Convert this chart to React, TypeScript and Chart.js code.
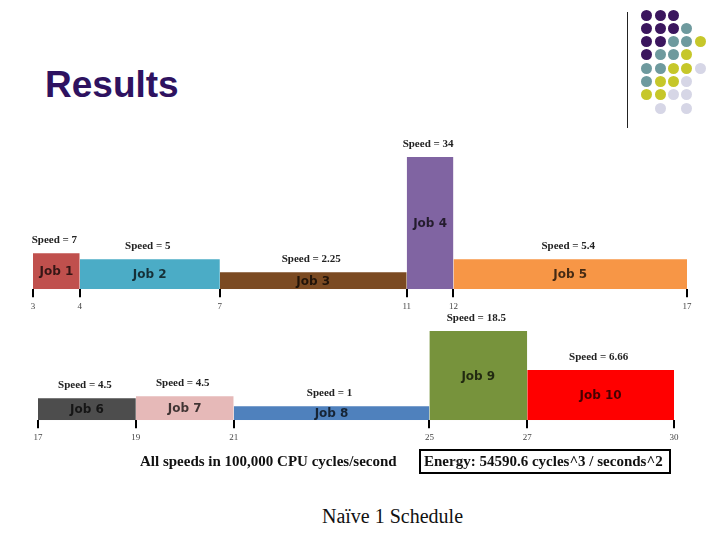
import React, { useEffect, useRef } from "react";
import { Chart, registerables } from "chart.js";

Chart.register(...registerables);

// ---- data ----
const topJobs = ["Job 1", "Job 2", "Job 3", "Job 4", "Job 5"];
const topStarts = [3, 4, 7, 11, 12];
const topEnds = [4, 7, 11, 12, 17];
const topHeights = [36, 30, 17, 132, 30];
const topSpeeds = ["7", "5", "2.25", "34", "5.4"];
const topTicks = [3, 4, 7, 11, 12, 17];
const topColors = ["#C0504D", "#4BACC6", "#7B4A22", "#8064A2", "#F79646"];

const bottomJobs = ["Job 6", "Job 7", "Job 8", "Job 9", "Job 10"];
const bottomStarts = [17, 19, 21, 25, 27];
const bottomEnds = [19, 21, 25, 27, 30];
const bottomHeights = [22, 24, 14, 89, 50];
const bottomSpeeds = ["4.5", "4.5", "1", "18.5", "6.66"];
const bottomTicks = [17, 19, 21, 25, 27, 30];
const bottomColors = ["#4D4D4D", "#E6B9B8", "#4F81BD", "#77933C", "#FF0000"];

const logoRows = [
  "PPP..",
  "PPPT.",
  "PPTTY",
  "PTTY.",
  "TTYYL",
  "TYYL.",
  "YYLL.",
  ".L.L.",
];
const logoColors: Record<string, string> = {
  P: "#3B165E",
  T: "#6E9A9E",
  Y: "#C6C72A",
  L: "#D6D6E6",
};

type ScheduleProps = {
  jobs: string[];
  starts: number[];
  ends: number[];
  heights: number[];
  speeds: string[];
  ticks: number[];
  colors: string[];
  yMax: number;
  width: number;
  height: number;
  padding: { left: number; right: number; top: number; bottom: number };
  style: React.CSSProperties;
};

function Schedule(props: ScheduleProps) {
  const ref = useRef<HTMLCanvasElement | null>(null);
  useEffect(() => {
    if (!ref.current) return;
    const { jobs, starts, ends, heights, speeds, ticks, colors } = props;
    const labelPlugin = {
      id: "jobLabels",
      afterDatasetsDraw(chart: any) {
        const ctx = chart.ctx;
        const xs = chart.scales.x;
        const ys = chart.scales.y;
        ctx.save();
        ctx.textAlign = "center";
        ctx.textBaseline = "middle";
        jobs.forEach((name, i) => {
          const x0 = xs.getPixelForValue(starts[i]);
          const x1 = xs.getPixelForValue(ends[i]);
          const yt = ys.getPixelForValue(heights[i]);
          const yb = ys.getPixelForValue(0);
          const cx = (x0 + x1) / 2;
          ctx.font = "bold 12px 'DejaVu Sans'";
          ctx.fillStyle = "rgba(0,0,0,0.72)";
          ctx.fillText(name, cx, (yt + yb) / 2 + 1);
          ctx.font = "bold 11px 'Liberation Serif'";
          ctx.fillStyle = "#222";
          ctx.fillText("Speed = " + speeds[i], cx - 2, yt - 13);
        });
        ctx.restore();
      },
    };
    const chart = new Chart(ref.current, {
      type: "line",
      data: {
        datasets: jobs.map((name, i) => ({
          label: name,
          data: [
            { x: starts[i], y: 0 },
            { x: starts[i], y: heights[i] },
            { x: ends[i], y: heights[i] },
            { x: ends[i], y: 0 },
          ],
          fill: "origin",
          backgroundColor: colors[i],
          borderColor: colors[i],
          borderWidth: 0,
          pointRadius: 0,
          tension: 0,
        })),
      },
      options: {
        animation: false,
        responsive: false,
        events: [],
        layout: { padding: props.padding },
        plugins: { legend: { display: false }, tooltip: { enabled: false } },
        scales: {
          x: {
            type: "linear",
            min: ticks[0],
            max: ticks[ticks.length - 1],
            afterBuildTicks: (axis: any) => {
              axis.ticks = ticks.map((v) => ({ value: v }));
            },
            border: { display: false },
            grid: {
              display: true,
              drawOnChartArea: false,
              drawTicks: true,
              tickLength: 8,
              lineWidth: 2,
              color: "#000",
            },
            ticks: {
              autoSkip: false,
              maxRotation: 0,
              padding: 4,
              color: "#444",
              font: { family: "'Liberation Serif'", size: 9 },
            },
          },
          y: { display: false, min: 0, max: props.yMax },
        },
      },
      plugins: [labelPlugin],
    } as any);
    return () => chart.destroy();
  }, []);
  return (
    <canvas
      ref={ref}
      width={props.width}
      height={props.height}
      style={{ position: "absolute", width: props.width, height: props.height, ...props.style }}
    />
  );
}

export default function App() {
  return (
    <div
      style={{
        position: "fixed",
        left: 0,
        top: 0,
        width: 720,
        height: 540,
        background: "#fff",
        overflow: "hidden",
      }}
    >
      <div
        style={{
          position: "absolute",
          left: 45,
          top: 64,
          fontFamily: "'Liberation Sans', Arial, sans-serif",
          fontWeight: "bold",
          fontSize: 37,
          lineHeight: "42px",
          color: "#2E1260",
        }}
      >
        Results
      </div>
      <div
        style={{
          position: "absolute",
          left: 627,
          top: 12,
          width: 1,
          height: 116,
          background: "#222",
        }}
      />
      {logoRows.map((row, r) =>
        row.split("").map((c, k) =>
          c === "." ? null : (
            <div
              key={r + "-" + k}
              style={{
                position: "absolute",
                left: 646.7 + k * 13.33 - 5.5,
                top: 15 + r * 13.3 - 5.5,
                width: 11,
                height: 11,
                borderRadius: "50%",
                background: logoColors[c],
              }}
            />
          )
        )
      )}
      <Schedule
        jobs={topJobs}
        starts={topStarts}
        ends={topEnds}
        heights={topHeights}
        speeds={topSpeeds}
        ticks={topTicks}
        colors={topColors}
        yMax={150}
        width={720}
        height={190}
        padding={{ left: 33, right: 33, top: 9, bottom: 4 }}
        style={{ left: 0, top: 130 }}
      />
      <Schedule
        jobs={bottomJobs}
        starts={bottomStarts}
        ends={bottomEnds}
        heights={bottomHeights}
        speeds={bottomSpeeds}
        ticks={bottomTicks}
        colors={bottomColors}
        yMax={110}
        width={720}
        height={151}
        padding={{ left: 38, right: 46, top: 10, bottom: 4 }}
        style={{ left: 0, top: 300 }}
      />
      <div
        style={{
          position: "absolute",
          left: 140,
          top: 451,
          fontFamily: "'Liberation Serif', serif",
          fontWeight: "bold",
          fontSize: 15,
          lineHeight: "20px",
          color: "#111",
          whiteSpace: "nowrap",
        }}
      >
        All speeds in 100,000 CPU cycles/second
      </div>
      <div
        style={{
          position: "absolute",
          left: 419,
          top: 449,
          width: 245,
          height: 21,
          border: "2px solid #000",
          fontFamily: "'Liberation Serif', serif",
          fontWeight: "bold",
          fontSize: 15,
          lineHeight: "21px",
          color: "#111",
          whiteSpace: "nowrap",
          paddingLeft: 3,
          boxSizing: "content-box",
        }}
      >
        Energy: 54590.6 cycles^3 / seconds^2
      </div>
      <div
        style={{
          position: "absolute",
          left: 0,
          width: 785,
          top: 504,
          textAlign: "center",
          fontFamily: "'Liberation Serif', serif",
          fontSize: 20,
          lineHeight: "24px",
          color: "#111",
          whiteSpace: "nowrap",
        }}
      >
        Naïve 1 Schedule
      </div>
    </div>
  );
}
